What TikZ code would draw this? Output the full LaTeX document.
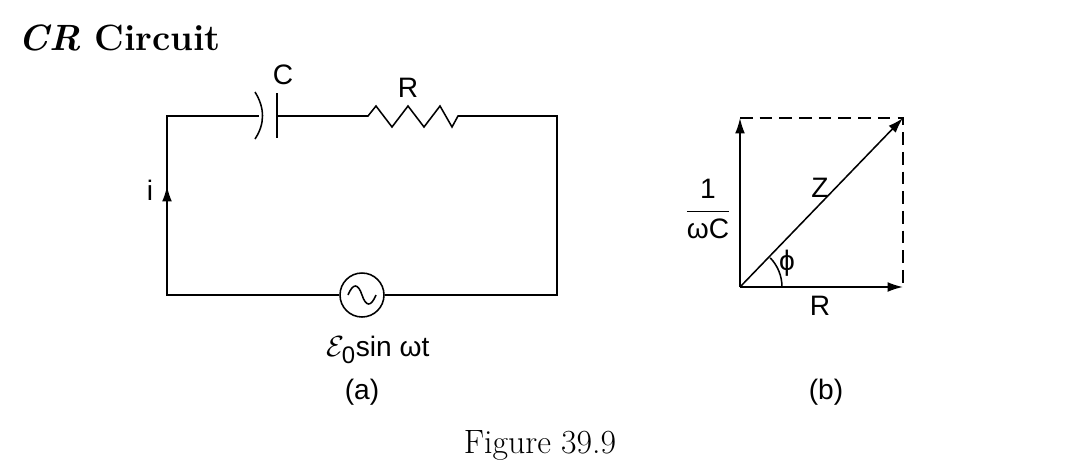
\documentclass[tikz,border=0pt]{standalone}
\usepackage{fontspec}
\newfontfamily\lab{Liberation Sans}
\usetikzlibrary{arrows.meta}
\tikzset{lbl/.style={font=\lab\fontsize{20}{24}\selectfont, inner sep=1pt},
  wire/.style={line width=1.1pt},
  vec/.style={line width=1.1pt,-{Latex[length=11pt,width=7pt]}}}
\begin{document}
\begin{tikzpicture}[x=0.025cm,y=-0.025cm]
\useasboundingbox (0,0) rectangle (1080,474);
\node[anchor=west, font=\bfseries\fontsize{26}{30}\selectfont] (title) at (14,38) {\textit{CR} Circuit};
% circuit (a)
\coordinate (tl) at (167,116);
\coordinate (tr) at (557,116);
\coordinate (br) at (557,295);
\coordinate (bl) at (167,295);
\node[circle,draw,wire,minimum size=44*0.025cm,inner sep=0] (src) at (362,295) {};
\draw[wire] (src.west) -- (bl) -- (tl) -- (259,116);
\draw[wire] (255,92) .. controls (265,108) and (265,124) .. (255,139);
\draw[wire] (277,93) -- (277,138);
\draw[wire] (277,116) -- (368,116) -- (376,106) -- (392,127) -- (408,106) -- (424,127) -- (440,106) -- (452,127) -- (458,116) -- (tr) -- (br) -- (src.east);
\draw[wire] (348,295) .. controls (353,283) and (358,283) .. (362,295) .. controls (366,307) and (371,307) .. (376,295);
\draw[vec] (167,205) -- (167,186);
\node[lbl] (i) at (150,190) {i};
\node[lbl] (C) at (283,75) {C};
\node[lbl] (R) at (408,88) {R};
\node[lbl] (emf) at (378,350) {$\mathcal{E}_{\hbox{\lab\fontsize{17}{20}\selectfont 0}}$sin ωt};
\node[lbl] (a) at (362,392) {(a)};
% phasor (b)
\coordinate (O) at (740,287);
\coordinate (P) at (903,287);
\coordinate (Q) at (740,118);
\coordinate (S) at (903,118);
\draw[vec] (O) -- (P);
\draw[vec] (O) -- (Q);
\draw[vec] (O) -- (S);
\draw[wire,dashed,dash pattern=on 9pt off 5pt] (Q) -- (S) -- (P);
\draw[wire] (782,287) arc (0:-44:42);
\node[lbl] (Rb) at (820,306) {R};
\node[lbl] (Z) at (820,188) {Z};
\node[lbl] (phi) at (787,263) {ϕ};
\node[lbl] (wc) at (708,209) {$\displaystyle\frac{\hbox{1}}{\hbox{ωC}}$};
\node[lbl] (b) at (826,392) {(b)};
\node[font=\fontsize{24}{28}\selectfont] (fig) at (540,445) {Figure 39.9};
\end{tikzpicture}
\end{document}
